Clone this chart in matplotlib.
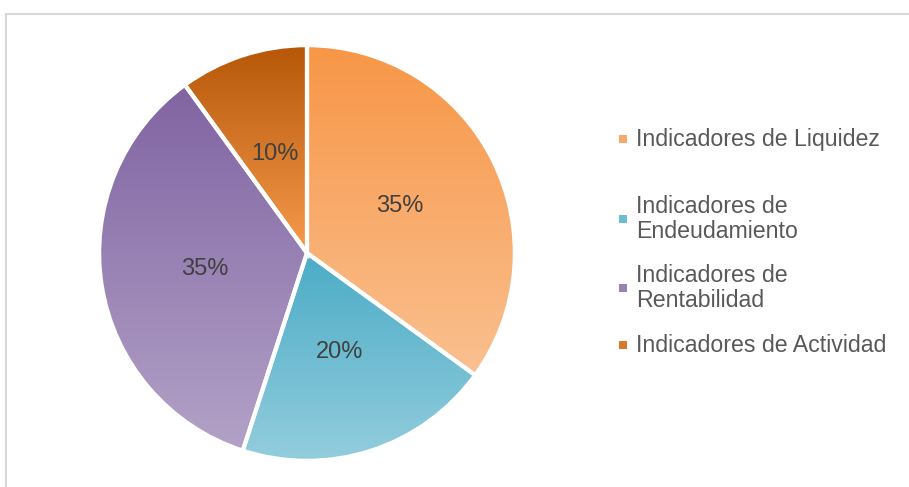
import matplotlib.pyplot as plt
import numpy as np
from matplotlib.colors import LinearSegmentedColormap
from matplotlib.patches import Rectangle

plt.rcParams['font.family'] = ['Liberation Sans', 'DejaVu Sans']

# Data
categories = ['Indicadores de Liquidez', 'Indicadores de\nEndeudamiento',
              'Indicadores de\nRentabilidad', 'Indicadores de Actividad']
shares = [35, 20, 35, 10]

# Top / bottom colours of each slice gradient
grad_top = ['#F79646', '#4BACC6', '#8064A2', '#B65708']
grad_bottom = ['#FAC090', '#93CDDD', '#B3A2C7', '#F79A4C']
legend_colors = ['#F8A868', '#6DBDD2', '#9983B5', '#D9782C']

W, H = 909, 487
fig = plt.figure(figsize=(W / 100, H / 100), dpi=100)

# light frame around the chart area
frame = Rectangle((6 / W, -0.1), 1.2, (H - 14) / H + 0.1, transform=fig.transFigure,
                  fill=False, edgecolor='#D9D9D9', linewidth=1.5)
fig.patches.append(frame)

cx, cy, half = 307, 253, 212
ax = fig.add_axes([(cx - half) / W, (H - cy - half) / H, 2 * half / W, 2 * half / H])
ax.set_xlim(-1.02, 1.02)
ax.set_ylim(-1.02, 1.02)
ax.set_aspect('equal')
ax.axis('off')

wedges, texts, autotexts = ax.pie(
    shares, startangle=90, counterclock=False, radius=1,
    autopct='%d%%', pctdistance=0.5,
    wedgeprops=dict(linewidth=0, facecolor='none'),
    textprops=dict(color='#404040', fontsize=17))

grad = np.linspace(0, 1, 256).reshape(-1, 1)
for w, top, bot in zip(wedges, grad_top, grad_bottom):
    ext = w.get_path().get_extents()
    cmap = LinearSegmentedColormap.from_list('g', [top, bot])
    im = ax.imshow(grad, cmap=cmap, aspect='auto', origin='upper',
                   extent=[ext.x0, ext.x1, ext.y0, ext.y1], zorder=1,
                   interpolation='bilinear')
    im.set_clip_path(w)
    w.set_zorder(2)
    w.set_edgecolor('white')
    w.set_linewidth(3)

ax.set_xlim(-1.02, 1.02)
ax.set_ylim(-1.02, 1.02)
for t in autotexts:
    t.set_zorder(3)

# legend
entry_y = [139, 219, 288, 345]
for label, col, y in zip(categories, legend_colors, entry_y):
    fig.patches.append(Rectangle((619 / W, 1 - (y + 4) / H), 8 / W, 8 / H,
                                 transform=fig.transFigure, facecolor=col,
                                 edgecolor='none'))
    fig.text(636 / W, 1 - y / H, label, fontsize=16.7, color='#595959',
             va='center', ha='left', linespacing=1.1)

fig.savefig('out.png', dpi=100)
